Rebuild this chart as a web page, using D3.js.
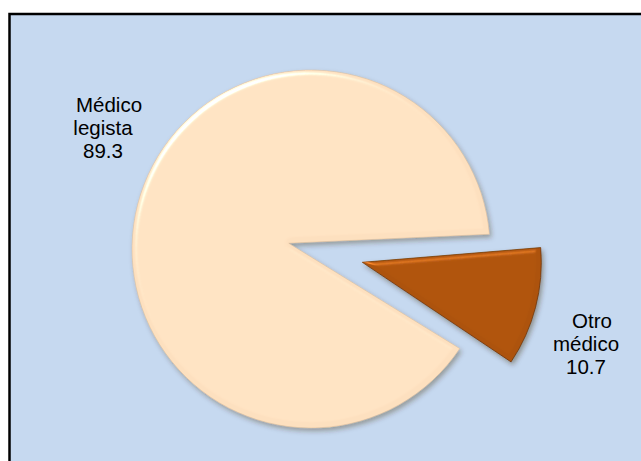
<!DOCTYPE html>
<html><head><meta charset="utf-8">
<script src="https://cdn.jsdelivr.net/npm/d3@7"></script>
<style>body{margin:0;background:#fff}svg{display:block}</style>
</head><body>
<svg id="c" width="641" height="461"></svg>
<script>
const categories = ["Médico legista", "Otro médico"];
const values = [89.3, 10.7];
const valueLabels = ["89.3", "10.7"];
const nameLines = [["Médico", "legista"], ["Otro", "médico"]];
const colors = ["#fde0bf", "#ad530c"];

const svg = d3.select("#c");
const defs = svg.append("defs");

function bevel(id, spec, light, shadowOp) {
  const f = defs.append("filter").attr("id", id)
    .attr("x", "-20%").attr("y", "-20%").attr("width", "140%").attr("height", "140%");
  f.append("feGaussianBlur").attr("in", "SourceAlpha").attr("stdDeviation", 2.5).attr("result", "blur");
  const sl = f.append("feSpecularLighting").attr("in", "blur").attr("surfaceScale", 4)
    .attr("specularConstant", spec).attr("specularExponent", 24)
    .attr("lighting-color", light).attr("result", "spec");
  sl.append("feDistantLight").attr("azimuth", 235).attr("elevation", 30);
  f.append("feComposite").attr("in", "spec").attr("in2", "SourceAlpha").attr("operator", "in").attr("result", "specOut");
  f.append("feComposite").attr("in", "SourceGraphic").attr("in2", "specOut")
    .attr("operator", "arithmetic").attr("k1", 0).attr("k2", 1).attr("k3", 1).attr("k4", 0).attr("result", "lit");
  f.append("feDropShadow").attr("in", "lit").attr("dx", 2).attr("dy", 3).attr("stdDeviation", 2.5)
    .attr("flood-color", "#3a2a10").attr("flood-opacity", shadowOp);
}
bevel("bevBig", 0.9, "#ffffff", 0.35);
bevel("bevSmall", 0.7, "#f08a30", 0.4);

// chart area with border (clipped by the picture on right and bottom)
svg.append("rect").attr("x", 9.5).attr("y", 14).attr("width", 700).attr("height", 500)
  .attr("fill", "#c6d9f0").attr("stroke", "#000").attr("stroke-width", 2.5);

const cx = 311, cy = 249, R = 179;
const startDeg = 123.8;
const a0 = startDeg * Math.PI / 180;
const pie = d3.pie().sort(null).startAngle(a0).endAngle(a0 + 2 * Math.PI);
const arcs = pie(values);
const explode = [0, 53];
const notch = [23, 0];

const g = svg.append("g").attr("transform", `translate(${cx},${cy})`);
const arcGen = d3.arc().innerRadius(0).outerRadius(R);

arcs.forEach((d, i) => {
  const mid = (d.startAngle + d.endAngle) / 2;
  const ux = Math.sin(mid), uy = -Math.cos(mid);
  const ox = explode[i] * ux, oy = explode[i] * uy;
  let pathStr;
  if (notch[i] > 0) {
    const p = d3.path();
    p.moveTo(notch[i] * ux, notch[i] * uy);
    p.lineTo(R * Math.sin(d.startAngle), -R * Math.cos(d.startAngle));
    p.arc(0, 0, R, d.startAngle - Math.PI / 2, d.endAngle - Math.PI / 2, false);
    p.closePath();
    pathStr = p.toString();
  } else {
    pathStr = arcGen(d);
  }
  g.append("path")
    .attr("d", pathStr)
    .attr("transform", `translate(${ox},${oy})`)
    .attr("fill", colors[i])
    .attr("stroke", i === 0 ? "#d9b48a" : "#6a3206")
    .attr("stroke-width", i === 0 ? 0.6 : 1)
    .attr("stroke-opacity", 0.7)
    .attr("filter", i === 0 ? "url(#bevBig)" : "url(#bevSmall)");
});

// data labels
const labelPos = [{x: 103, y: 112, dx0: 6}, {x: 586, y: 328, dx0: 6}];
arcs.forEach((d, i) => {
  const lines = nameLines[i].concat([valueLabels[i]]);
  const t = svg.append("text")
    .attr("font-family", "Arial, 'Liberation Sans', sans-serif")
    .attr("font-size", 20.5).attr("fill", "#000").attr("text-anchor", "middle");
  lines.forEach((ln, k) => {
    t.append("tspan").attr("x", labelPos[i].x + (k === 0 ? labelPos[i].dx0 : 0))
      .attr("y", labelPos[i].y + k * 23).text(ln);
  });
});
</script>
</body></html>
